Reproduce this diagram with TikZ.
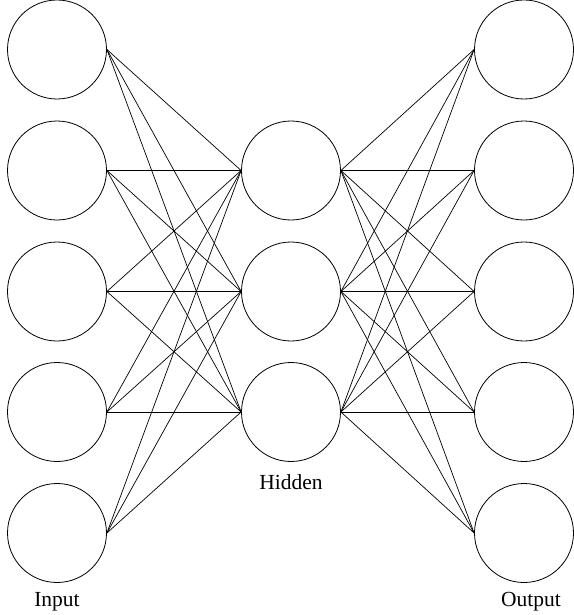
\documentclass[tikz,border=0pt]{standalone}
\usepackage{fontspec}
\setmainfont{Liberation Serif}
\usetikzlibrary{positioning}
\tikzset{
  every picture/.style={line width=0.8pt},
  neuron/.style={draw, circle, minimum size=99pt, inner sep=0pt},
  link/.style={draw, line width=0.7pt},
  layerlabel/.style={font=\fontsize{21.5}{24}\selectfont, inner sep=5pt},
}
\begin{document}
\begin{tikzpicture}[x=1pt, y=-1pt]
  \useasboundingbox (0,0) rectangle (573,615);
  \foreach \i/\y in {1/49.5, 2/170.5, 3/291.5, 4/412, 5/533} {
    \node[neuron] (i\i) at (57,\y) {};
    \node[neuron] (o\i) at (524,\y) {};
  }
  \foreach \j/\y in {1/170.5, 2/291.5, 3/412}
    \node[neuron] (h\j) at (291,\y) {};
  \foreach \i in {1,...,5}
    \foreach \j in {1,2,3} {
      \draw[link] (i\i.east) -- (h\j.west);
      \draw[link] (h\j.east) -- (o\i.west);
    }
  \node[layerlabel, below=4pt of i5] (inlab) {Input};
  \node[layerlabel, below=7pt of h3] (hidlab) {Hidden};
  \node[layerlabel, below=4pt of o5, xshift=7pt] (outlab) {Output};
\end{tikzpicture}
\end{document}
